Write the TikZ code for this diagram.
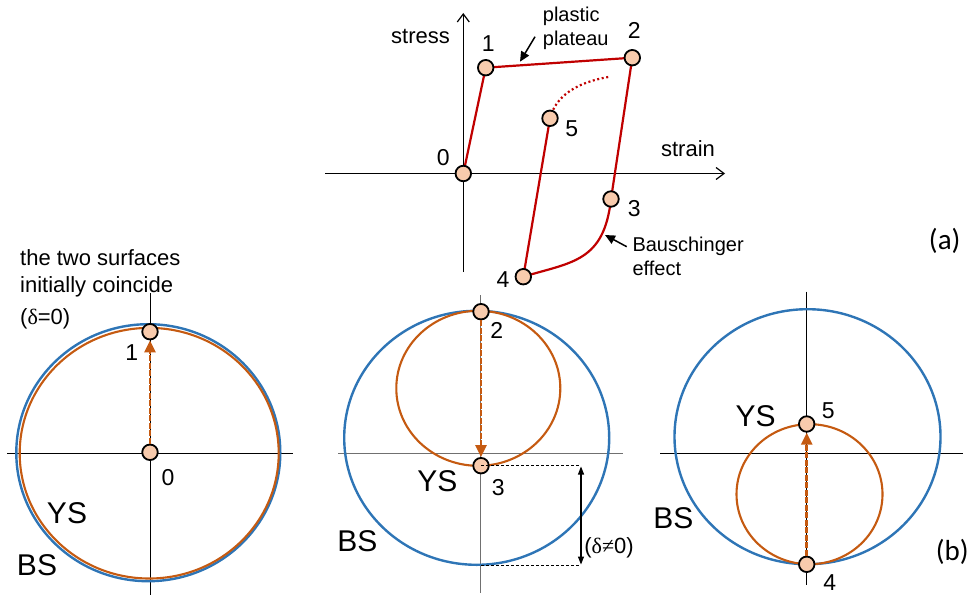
\documentclass[tikz,border=0pt]{standalone}
\usepackage{fontspec}
\setmainfont{Liberation Sans}
\newfontfamily\symfont{Liberation Serif}
\newfontfamily\calfont{Carlito}
\usetikzlibrary{arrows.meta}
\definecolor{cred}{HTML}{C00000}
\definecolor{corange}{HTML}{C55A11}
\definecolor{cblue}{HTML}{2E75B6}
\definecolor{cpeach}{HTML}{F8CBAD}
\definecolor{cgray}{HTML}{707070}
\begin{document}
\begin{tikzpicture}[x=1pt,y=-1pt,
  marker/.style={circle, draw=black, line width=1.8pt, fill=cpeach, minimum size=15.5pt, inner sep=0pt},
  axis/.style={draw=black, line width=0.9pt},
  topaxis/.style={draw=black, line width=1.2pt, -{Straight Barb[length=8pt,width=12pt]}},
  redline/.style={draw=cred, line width=2.2pt, line join=round},
  reddot/.style={draw=cred, line width=2.2pt, dash pattern=on 2pt off 2.6pt},
  blueline/.style={draw=cblue, line width=2.4pt},
  orangeline/.style={draw=corange, line width=2.1pt},
  dasharrow/.style={draw=corange, line width=2.5pt, dash pattern=on 6pt off 1.5pt, -{Triangle[length=12pt,width=11pt]}},
  pointer/.style={draw=black, line width=1.5pt, -{Triangle[length=10pt,width=9pt]}},
  dimarrow/.style={draw=black, line width=1.1pt, {Triangle[length=8pt,width=6pt]}-{Triangle[length=8pt,width=6pt]}},
  guide/.style={draw=black, line width=0.8pt, dash pattern=on 3pt off 2pt},
  num/.style={font=\fontsize{23}{27}\selectfont, inner sep=0pt, anchor=base},
  big/.style={font=\fontsize{30}{34}\selectfont, inner sep=0pt, anchor=base},
  lbl/.style={font=\fontsize{22}{26}\selectfont, inner sep=0pt, anchor=base},
  note/.style={font=\fontsize{20}{24}\selectfont, align=left, inner sep=0pt, anchor=base west},
  tag/.style={font=\calfont\fontsize{29}{33}\selectfont, inner sep=0pt, anchor=center}
]
\useasboundingbox (0,0) rectangle (973,599);

% ---------------- top graph ----------------
\coordinate (axL) at (325,173.5);
\coordinate (axR) at (725,173.5);
\coordinate (axB) at (463.3,272);
\coordinate (axT) at (463.3,13);
\draw[topaxis] (axL) -- (axR);
\draw[topaxis] (axB) -- (axT);

\coordinate (c0) at (463.3,173.5);
\coordinate (c1) at (485.7,67.7);
\coordinate (c2) at (632.3,57.7);
\coordinate (c3) at (611,199);
\coordinate (c4) at (523.3,276.7);
\coordinate (c5) at (550,118.3);
\coordinate (cdot) at (610,76.7);

\draw[redline] (c0) -- (c1) -- (c2) -- (c3) .. controls (604,262) and (572,262) .. (c4) -- (c5);
\draw[reddot] (c5) .. controls (556,95) and (578,82) .. (cdot);

\node[marker] (t0) at (c0) {};
\node[marker] (t1) at (c1) {};
\node[marker] (t2) at (c2) {};
\node[marker] (t3) at (c3) {};
\node[marker] (t4) at (c4) {};
\node[marker] (t5) at (c5) {};

\node[lbl] (stress) at (420.5,43.3) {stress};
\node[lbl] (strain) at (688,156.7) {strain};
\node[num] (l0) at (443.3,165) {0};
\node[num] (l1) at (488.3,51.7) {1};
\node[num] (l2) at (634.3,38.3) {2};
\node[num] (l5) at (571.7,136.7) {5};
\node[num] (l3) at (634.3,216) {3};
\node[num] (l4) at (503,287) {4};

\node[note] (plast) at (542.7,46) {plastic\\plateau};
\coordinate (pa) at (535,36.7);
\coordinate (pb) at (520,61.7);
\draw[pointer] (pa) -- (pb);

\node[note] (bausch) at (632.3,275) {Bauschinger\\effect};
\coordinate (ba) at (626.7,246.7);
\coordinate (bb) at (605,235);
\draw[pointer] (ba) -- (bb);

\node[tag] (taga) at (944.7,241) {(a)};

% ---------------- left panel ----------------
\coordinate (Lh1) at (7,453.3);
\coordinate (Lh2) at (293,453.3);
\coordinate (Lv1) at (150,293);
\coordinate (Lv2) at (150,595);
\draw[axis] (Lh1) -- (Lh2);
\draw[axis] (Lv1) -- (Lv2);
\draw[blueline] (148.3,452.7) ellipse [x radius=132pt, y radius=128.5pt];
\draw[orangeline] (149.2,453.2) ellipse [x radius=129.5pt, y radius=125.3pt];
\node[marker] (a1) at (150,331.7) {};
\node[marker] (a0) at (150,452.3) {};
\draw[dasharrow] (a0) -- (a1);
\node[num] (la1) at (131.7,360) {1};
\node[num] (la0) at (168,485) {0};
\node[big] (ysL) at (67,523.3) {YS};
\node[big] (bsL) at (37,575) {BS};
\node[font=\fontsize{22}{26.7}\selectfont, align=left, inner sep=0pt, anchor=base west] (init) at (20,324)
  {the two surfaces\\initially coincide\\[5pt]({\symfont δ}=0)};

% ---------------- middle panel ----------------
\coordinate (Mh1) at (338,453.3);
\coordinate (Mh2) at (623.3,453.3);
\coordinate (Mv1) at (480.7,295);
\coordinate (Mv2) at (480.7,593.3);
\draw[draw=cgray, line width=1.5pt] (Mh1) -- (Mh2);
\draw[draw=cgray, line width=1.2pt] (Mv1) -- (Mv2);
\draw[blueline] (476.7,437.8) ellipse [x radius=132.5pt, y radius=127pt];
\draw[orangeline] (478.3,388.3) ellipse [x radius=82pt, y radius=77.5pt];
\node[marker] (m2) at (481,311.7) {};
\node[marker] (m3) at (481,465.7) {};
\draw[dasharrow] (m2) -- (m3);
\coordinate (g1) at (580,465.7);
\coordinate (g2a) at (481,565);
\coordinate (g2) at (580,565);
\draw[guide] (m3.center) -- (g1);
\draw[guide] (g2a) -- (g2);
\draw[dimarrow] (581,466.5) -- (581,564.5);
\node[num] (lm2) at (496.7,338.3) {2};
\node[num] (lm3) at (498.3,495) {3};
\node[big] (ysM) at (437.3,491.7) {YS};
\node[big] (bsM) at (357.3,551.7) {BS};
\node[lbl] (dne) at (609,553.3) {({\symfont δ≠}0)};

% ---------------- right panel ----------------
\coordinate (Rh1) at (660,453.3);
\coordinate (Rh2) at (963.3,453.3);
\coordinate (Rv1) at (806.7,291.7);
\coordinate (Rv2) at (806.7,585);
\draw[axis] (Rh1) -- (Rh2);
\draw[axis] (Rv1) -- (Rv2);
\draw[blueline] (807.5,436.7) ellipse [x radius=133pt, y radius=127.5pt];
\draw[orangeline] (809.5,494.2) ellipse [x radius=73pt, y radius=70pt];
\node[marker] (r5) at (806.7,424) {};
\node[marker] (r4) at (806.7,564.3) {};
\draw[dasharrow] (r4) -- (r5);
\node[num] (lr5) at (828.3,418.3) {5};
\node[num] (lr4) at (829.7,590) {4};
\node[big] (ysR) at (755.7,426.7) {YS};
\node[big] (bsR) at (673.3,528.3) {BS};
\node[tag] (tagb) at (952.3,551.7) {(b)};
\end{tikzpicture}
\end{document}
